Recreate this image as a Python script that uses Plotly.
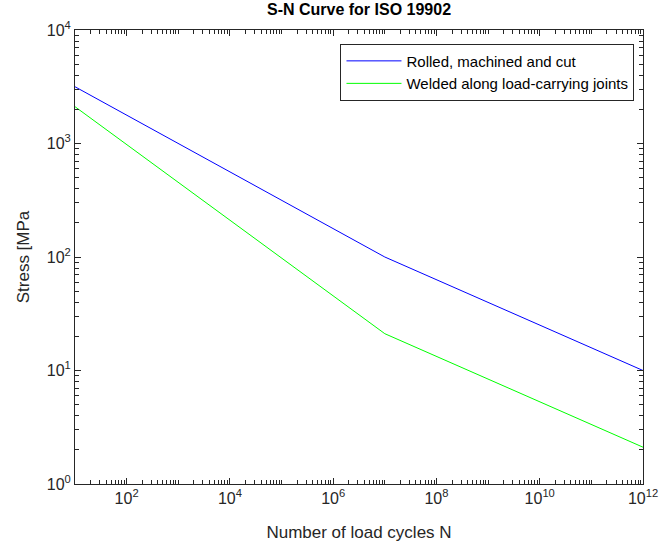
import plotly.graph_objects as go
import numpy as np

cycles = [1e1, 1e7, 1e12]
rolled = [3162, 100, 10]
welded = [2110, 21.1, 2.11]

x_major = [1e2, 1e4, 1e6, 1e8, 1e10, 1e12]
x_labels = ["10<sup>2</sup>", "10<sup>4</sup>", "10<sup>6</sup>", "10<sup>8</sup>", "10<sup>10</sup>", "10<sup>12</sup>"]
y_major = [1e0, 1e1, 1e2, 1e3, 1e4]
y_labels = ["10<sup>0</sup>", "10<sup>1</sup>", "10<sup>2</sup>", "10<sup>3</sup>", "10<sup>4</sup>"]

x_minor = [m * 10**k for k in range(1, 12) for m in range(1, 10) if m * 10**k not in x_major]
y_minor = [m * 10**k for k in range(0, 4) for m in range(2, 10)]

axcol = "#262626"
font = "Liberation Sans, Arial, sans-serif"

fig = go.Figure()
fig.add_trace(go.Scatter(x=cycles, y=rolled, mode="lines", name="Rolled, machined and cut",
                         line=dict(color="#0000ff", width=1)))
fig.add_trace(go.Scatter(x=cycles, y=welded, mode="lines", name="Welded along load-carrying joints",
                         line=dict(color="#00ff00", width=1)))

fig.update_layout(
    width=670, height=550,
    margin=dict(l=75, r=16, t=30, b=64),
    paper_bgcolor="white", plot_bgcolor="white",
    font=dict(family=font, color=axcol, size=14),
    title=dict(text="<b>S-N Curve for ISO 19902</b>", x=0.5, xref="paper", xanchor="center",
               y=1, yref="container", yanchor="top", pad=dict(t=4),
               font=dict(size=16, color="black", family=font)),
    legend=dict(x=0.985, y=0.97, xanchor="right", yanchor="top",
                bgcolor="white", bordercolor=axcol, borderwidth=1,
                font=dict(size=15, color="black", family=font),
                itemwidth=55, tracegroupgap=0),
    showlegend=True,
)
fig.update_xaxes(
    type="log", range=[1, 12], showgrid=False, zeroline=False,
    showline=True, linecolor=axcol, linewidth=1, mirror="ticks",
    ticks="inside", ticklen=6, tickcolor=axcol,
    tickmode="array", tickvals=x_major, ticktext=x_labels,
    tickfont=dict(size=16, color=axcol),
    minor=dict(ticks="inside", ticklen=4, tickcolor=axcol, tickmode="array", tickvals=x_minor, showgrid=False),
    title=dict(text="Number of load cycles N", font=dict(size=17, color=axcol), standoff=19),
)
fig.update_yaxes(
    type="log", range=[0, 4], showgrid=False, zeroline=False,
    showline=True, linecolor=axcol, linewidth=1, mirror="ticks",
    ticks="inside", ticklen=6, tickcolor=axcol,
    tickmode="array", tickvals=y_major, ticktext=y_labels,
    tickfont=dict(size=16, color=axcol),
    minor=dict(ticks="inside", ticklen=4, tickcolor=axcol, tickmode="array", tickvals=y_minor, showgrid=False),
    title=dict(text="Stress [MPa", font=dict(size=17, color=axcol), standoff=12),
)

fig.write_html("out.html")
